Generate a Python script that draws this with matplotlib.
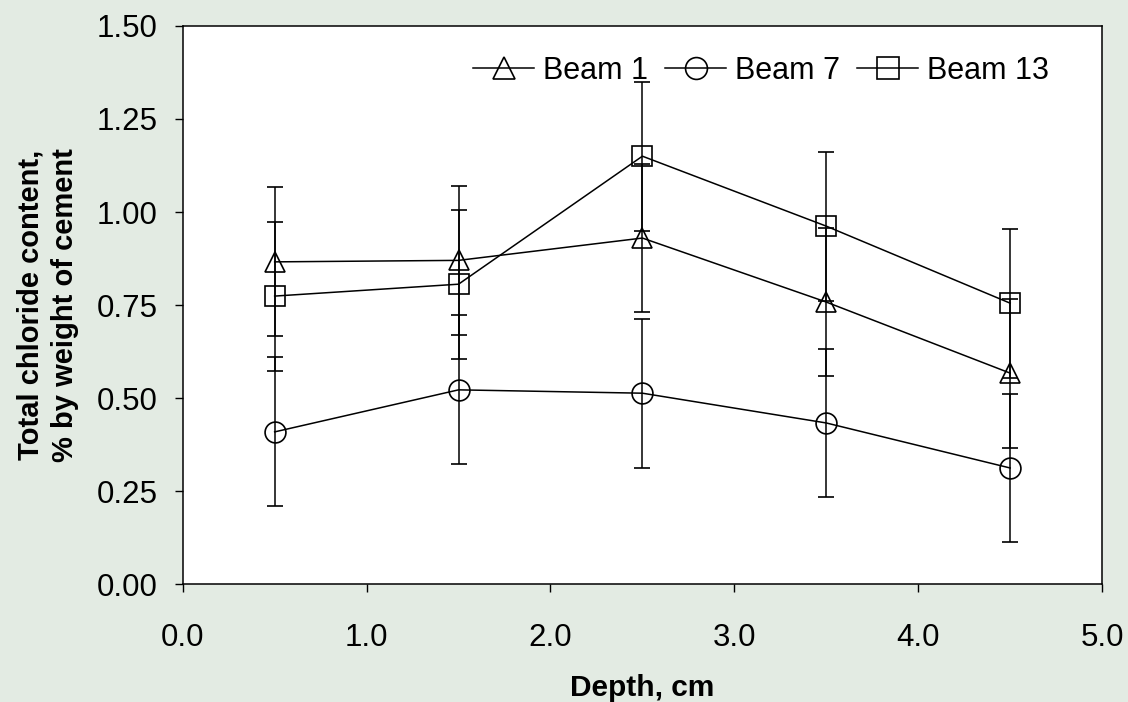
import matplotlib.pyplot as plt
import numpy as np

plt.rcParams['font.family'] = ['Liberation Sans', 'DejaVu Sans']

depth = [0.5, 1.5, 2.5, 3.5, 4.5]
beam1 = [0.866, 0.870, 0.930, 0.758, 0.567]
beam7 = [0.409, 0.522, 0.513, 0.433, 0.312]
beam13 = [0.774, 0.806, 1.150, 0.962, 0.755]
err = 0.2

fig = plt.figure(figsize=(11.28, 7.02), dpi=100)
fig.set_facecolor('#e3ebe3')
ax = fig.add_axes([0.162, 0.168, 0.815, 0.795])

style = dict(color='black', lw=1.1, elinewidth=1.1, capsize=6, capthick=1.1,
             markersize=15, markerfacecolor='none', markeredgecolor='black',
             markeredgewidth=1.2)
ax.errorbar(depth, beam1, yerr=err, marker='^', label='Beam 1', **style)
ax.errorbar(depth, beam7, yerr=err, marker='o', label='Beam 7', **style)
ax.errorbar(depth, beam13, yerr=err, marker='s', label='Beam 13', **style)

ax.set_xlim(0, 5)
ax.set_ylim(0, 1.5)
ax.set_xticks(np.arange(0, 5.01, 1.0))
ax.set_xticklabels(['%.1f' % v for v in np.arange(0, 5.01, 1.0)])
ax.set_yticks(np.arange(0, 1.51, 0.25))
ax.set_yticklabels(['%.2f' % v for v in np.arange(0, 1.51, 0.25)])
ax.tick_params(labelsize=22.5, direction='out', length=6, width=1)
ax.tick_params(axis='x', pad=22)
ax.tick_params(axis='y', pad=12)
for s in ax.spines.values():
    s.set_linewidth(1.1)

ax.set_xlabel('Depth, cm', fontsize=21.5, fontweight='bold', labelpad=15)
ax.set_ylabel('Total chloride content,\n% by weight of cement', fontsize=21,
              fontweight='bold', labelpad=13, linespacing=1.3)

# legend without the error bar glyphs
handles, labels = ax.get_legend_handles_labels()
handles = [h[0] for h in handles]
ax.legend(handles, labels, loc='upper right', bbox_to_anchor=(0.966, 0.985),
          ncol=3, frameon=False, fontsize=22, handlelength=2.0,
          handletextpad=0.3, columnspacing=0.55, borderaxespad=0.3,
          markerscale=1.05)

plt.savefig('out.png', dpi=100, facecolor=fig.get_facecolor())
